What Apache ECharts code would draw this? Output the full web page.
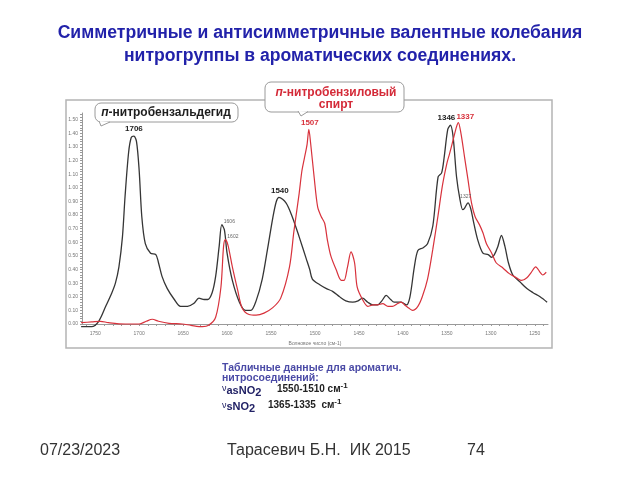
<!DOCTYPE html>
<html><head><meta charset="utf-8">
<script src="https://cdn.jsdelivr.net/npm/echarts@6/dist/echarts.min.js"></script>
<style>html,body{margin:0;padding:0;background:#fff}#c{width:640px;height:480px}</style>
</head><body><div id="c"></div>
<script>
// ---- data (wavenumber, absorbance) ----
const blackWn = [1766,1754,1746,1738,1731,1727,1723,1719,1716,1712,1709,1706,1703,1700,1697,1693,1687,1681,1678,1674,1668,1660,1653,1645,1638,1632,1626,1622,1617,1613,1609,1606,1603,1600,1594,1586,1579,1573,1567,1560,1554,1548,1544,1541,1533,1526,1518,1510,1506,1503,1495,1487,1480,1472,1465,1457,1451,1446,1440,1434,1429,1424,1419,1414,1410,1402,1396,1392,1387,1383,1377,1372,1366,1360,1356,1353,1349,1346,1343,1339,1335,1332,1330,1326,1323,1320,1315,1309,1303,1299,1296,1292,1288,1284,1280,1275,1267,1259,1252,1244,1236];
const blackAbs = [-0.02,-0.02,0.02,0.13,0.23,0.30,0.42,0.64,0.94,1.26,1.37,1.38,1.34,1.13,0.79,0.59,0.52,0.51,0.45,0.35,0.26,0.18,0.13,0.13,0.15,0.19,0.18,0.18,0.23,0.35,0.57,0.73,0.69,0.52,0.32,0.16,0.10,0.10,0.17,0.33,0.55,0.78,0.90,0.93,0.89,0.79,0.64,0.48,0.40,0.33,0.29,0.26,0.24,0.20,0.17,0.16,0.17,0.19,0.16,0.14,0.14,0.17,0.21,0.18,0.16,0.16,0.14,0.20,0.42,0.54,0.56,0.59,0.72,1.08,1.11,1.23,1.43,1.46,1.38,1.08,0.91,0.84,0.85,0.89,0.85,0.76,0.62,0.52,0.51,0.49,0.51,0.57,0.65,0.57,0.45,0.36,0.31,0.26,0.23,0.20,0.16];
const redWn = [1766,1754,1744,1735,1716,1700,1692,1685,1678,1666,1651,1641,1628,1621,1613,1607,1604,1602,1599,1594,1588,1583,1575,1567,1558,1548,1539,1529,1524,1518,1515,1512,1509,1507,1505,1501,1497,1493,1489,1486,1482,1476,1470,1467,1463,1459,1455,1452,1446,1440,1434,1429,1423,1417,1412,1406,1402,1398,1393,1389,1383,1378,1372,1366,1360,1355,1350,1347,1343,1339,1337,1334,1330,1326,1322,1318,1313,1309,1305,1299,1294,1286,1279,1271,1265,1259,1254,1249,1244,1241,1237];
const redAbs = [0.01,0.015,0.02,0.01,0.0,0.0,0.02,0.035,0.02,0.005,0.0,-0.01,-0.02,-0.01,0.05,0.27,0.57,0.62,0.58,0.42,0.25,0.12,0.07,0.065,0.08,0.12,0.19,0.42,0.68,0.96,1.12,1.22,1.32,1.43,1.33,1.08,0.86,0.79,0.74,0.62,0.50,0.40,0.32,0.32,0.42,0.53,0.45,0.27,0.18,0.13,0.14,0.14,0.15,0.13,0.13,0.15,0.16,0.14,0.115,0.10,0.13,0.20,0.33,0.55,0.80,1.02,1.18,1.25,1.35,1.45,1.48,1.40,1.23,1.06,0.89,0.79,0.73,0.67,0.59,0.52,0.45,0.41,0.37,0.34,0.32,0.34,0.38,0.42,0.38,0.36,0.38];
const xTickLabels = [1750,1700,1650,1600,1550,1500,1450,1400,1350,1300,1250];
const yTickLabels = [0,0.1,0.2,0.3,0.4,0.5,0.6,0.7,0.8,0.9,1.0,1.1,1.2,1.3,1.4,1.5];
const blackPeakWn = [1706,1540,1346];
const blackPeakAbs = [1.38,0.93,1.46];
const blackSmallPeakWn = [1606,1327];
const blackSmallPeakAbs = [0.73,0.89];
const redPeakWn = [1507,1337];
const redPeakAbs = [1.43,1.48];
const redSmallPeakWn = [1602];
const redSmallPeakAbs = [0.62];

const xMinor = []; for (let v = 1240; v <= 1760; v += 10) xMinor.push(v);
const yMinor = []; for (let i = 0; i <= 77; i++) yMinor.push(+(i*0.02).toFixed(2));

const FONT = '"Liberation Sans", Arial, sans-serif';
const chart = echarts.init(document.getElementById('c'), null, {renderer:'canvas'});

function peakPoints(wn, ab, opts, offsets) {
  return wn.map((w,i)=>({name:String(w), coord:[w, ab[i]],
    label: Object.assign({}, opts, offsets ? {offset: offsets[i]} : {})}));
}
const bigBlack = {show:true, position:'top', distance:3, formatter:'{b}', fontSize:8, fontWeight:'bold', color:'#222', fontFamily:FONT};
const bigRed = {show:true, position:'top', distance:3, formatter:'{b}', fontSize:8, fontWeight:'bold', color:'#d8323c', fontFamily:FONT};
const tiny = {show:true, position:'right', distance:2, formatter:'{b}', fontSize:5, color:'#666', fontFamily:FONT};

chart.setOption({
  backgroundColor:'#fff',
  animation:false,
  grid:{left:82, right:92, top:113, bottom:156},
  xAxis:{type:'value', inverse:true, min:1235, max:1765, offset:2,
    axisLine:{lineStyle:{color:'#9a9a9a', width:1}},
    axisTick:{customValues:xMinor, length:2, lineStyle:{color:'#9a9a9a'}},
    axisLabel:{customValues:xTickLabels, fontSize:5, color:'#777', margin:5, fontFamily:FONT,
      formatter:v=>String(v)},
    splitLine:{show:false},
    name:'Волновое число (см-1)', nameLocation:'middle', nameGap:15,
    nameTextStyle:{fontSize:5, color:'#777', fontFamily:FONT}},
  yAxis:{type:'value', min:0, max:1.55,
    axisLine:{show:true, lineStyle:{color:'#9a9a9a', width:1}},
    axisTick:{show:true, customValues:yMinor, length:2, lineStyle:{color:'#9a9a9a'}},
    axisLabel:{customValues:yTickLabels, fontSize:5, color:'#777', margin:4, fontFamily:FONT,
      formatter:v=>v.toFixed(2)},
    splitLine:{show:false}},
  series:[
    {type:'line', name:'black', showSymbol:false, smooth:0.3, clip:false,
     data: blackWn.map((w,i)=>[w, blackAbs[i]]),
     lineStyle:{color:'#353535', width:1.3},
     markPoint:{symbol:'circle', symbolSize:0, silent:true,
       data: peakPoints(blackPeakWn, blackPeakAbs, bigBlack, [[0,0],[0,0],[-4,0]])
         .concat(peakPoints(blackSmallPeakWn, blackSmallPeakAbs, tiny, [[0,-3],[-9,-6]]))}},
    {type:'line', name:'red', showSymbol:false, smooth:0.3, clip:false,
     data: redWn.map((w,i)=>[w, redAbs[i]]),
     lineStyle:{color:'#d8323c', width:1.2},
     markPoint:{symbol:'circle', symbolSize:0, silent:true,
       data: peakPoints(redPeakWn, redPeakAbs, bigRed, [[1,0],[7,1]])
         .concat(peakPoints(redSmallPeakWn, redSmallPeakAbs, tiny, [[0,-3]]))}}
  ],
  graphic:[
    {type:'rect', z:0, shape:{x:66,y:100,width:486,height:248}, style:{fill:'none', stroke:'#b4b4b4', lineWidth:1.5}},
    // black callout
    {type:'rect', z:50, shape:{x:95,y:103,width:143,height:19,r:6}, style:{fill:'#fff', stroke:'#9a9a9a', lineWidth:1}},
    {type:'polyline', z:51, shape:{points:[[99,121],[101,126],[110,122]]}, style:{fill:'#fff', stroke:'#9a9a9a', lineWidth:1}},
    {type:'text', z:52, style:{x:166, y:112.5, textAlign:'center', textVerticalAlign:'middle',
      text:'{i|п}{b|-нитробензальдегид}',
      rich:{i:{fontStyle:'italic', fontWeight:'bold', fontSize:12, fontFamily:FONT, fill:'#1e1e1e'},
            b:{fontWeight:'bold', fontSize:12, fontFamily:FONT, fill:'#1e1e1e'}}}},
    // red callout
    {type:'rect', z:50, shape:{x:265,y:82,width:139,height:30,r:6}, style:{fill:'#fff', stroke:'#9a9a9a', lineWidth:1}},
    {type:'polyline', z:51, shape:{points:[[298,111],[301,116],[308,111.5]]}, style:{fill:'#fff', stroke:'#9a9a9a', lineWidth:1}},
    {type:'text', z:52, style:{x:336, y:93, textAlign:'center', textVerticalAlign:'middle',
      text:'{i|п}{b|-нитробензиловый}',
      rich:{i:{fontStyle:'italic', fontWeight:'bold', fontSize:12, fontFamily:FONT, fill:'#d42a38'},
            b:{fontWeight:'bold', fontSize:12, fontFamily:FONT, fill:'#d42a38'}}}},
    {type:'text', z:52, style:{x:336, y:104.5, textAlign:'center', textVerticalAlign:'middle',
      text:'спирт', font:'bold 12px '+FONT, fill:'#d42a38'}},
    // title
    {type:'text', style:{x:320, y:33, textAlign:'center', textVerticalAlign:'middle',
      text:'Симметричные и антисимметричные валентные колебания', font:'bold 17.6px '+FONT, fill:'#2222aa'}},
    {type:'text', style:{x:320, y:56, textAlign:'center', textVerticalAlign:'middle',
      text:'нитрогруппы в ароматических соединениях.', font:'bold 17.6px '+FONT, fill:'#2222aa'}},
    // table
    {type:'text', style:{x:222, y:368, textVerticalAlign:'middle',
      text:'Табличные данные для ароматич.', font:'bold 10.5px '+FONT, fill:'#4a4aa6'}},
    {type:'text', style:{x:222, y:378, textVerticalAlign:'middle',
      text:'нитросоединений:', font:'bold 10.5px '+FONT, fill:'#4a4aa6'}},
    {type:'text', style:{x:222, y:391, textVerticalAlign:'middle',
      text:'{v|ν}{s|asNO}{n|2}',
      rich:{v:{fontSize:9, fontFamily:FONT, fill:'#222266', padding:[0,0,5,0]},
            s:{fontSize:11, fontWeight:'bold', fontFamily:FONT, fill:'#222266'},
            n:{fontSize:11, fontWeight:'bold', fontFamily:FONT, fill:'#222266', padding:[3,0,0,0]}}}},
    {type:'text', style:{x:277, y:389, textVerticalAlign:'middle',
      text:'{t|1550-1510 см}{p|-1}',
      rich:{t:{fontSize:10, fontWeight:'bold', fontFamily:FONT, fill:'#222'},
            p:{fontSize:8, fontWeight:'bold', fontFamily:FONT, fill:'#222', padding:[0,0,6,0]}}}},
    {type:'text', style:{x:222, y:407, textVerticalAlign:'middle',
      text:'{v|ν}{s|sNO}{n|2}',
      rich:{v:{fontSize:9, fontFamily:FONT, fill:'#222266', padding:[0,0,3,0]},
            s:{fontSize:11, fontWeight:'bold', fontFamily:FONT, fill:'#222266'},
            n:{fontSize:11, fontWeight:'bold', fontFamily:FONT, fill:'#222266', padding:[3,0,0,0]}}}},
    {type:'text', style:{x:268, y:405, textVerticalAlign:'middle',
      text:'{t|1365-1335  см}{p|-1}',
      rich:{t:{fontSize:10, fontWeight:'bold', fontFamily:FONT, fill:'#222'},
            p:{fontSize:8, fontWeight:'bold', fontFamily:FONT, fill:'#222', padding:[0,0,6,0]}}}},
    // footer
    {type:'text', style:{x:40, y:451, textVerticalAlign:'middle', text:'07/23/2023', font:'16px '+FONT, fill:'#333'}},
    {type:'text', style:{x:227, y:451, textVerticalAlign:'middle', text:'Тарасевич Б.Н.  ИК 2015', font:'16px '+FONT, fill:'#333'}},
    {type:'text', style:{x:467, y:451, textVerticalAlign:'middle', text:'74', font:'16px '+FONT, fill:'#333'}}
  ]
});
</script></body></html>
